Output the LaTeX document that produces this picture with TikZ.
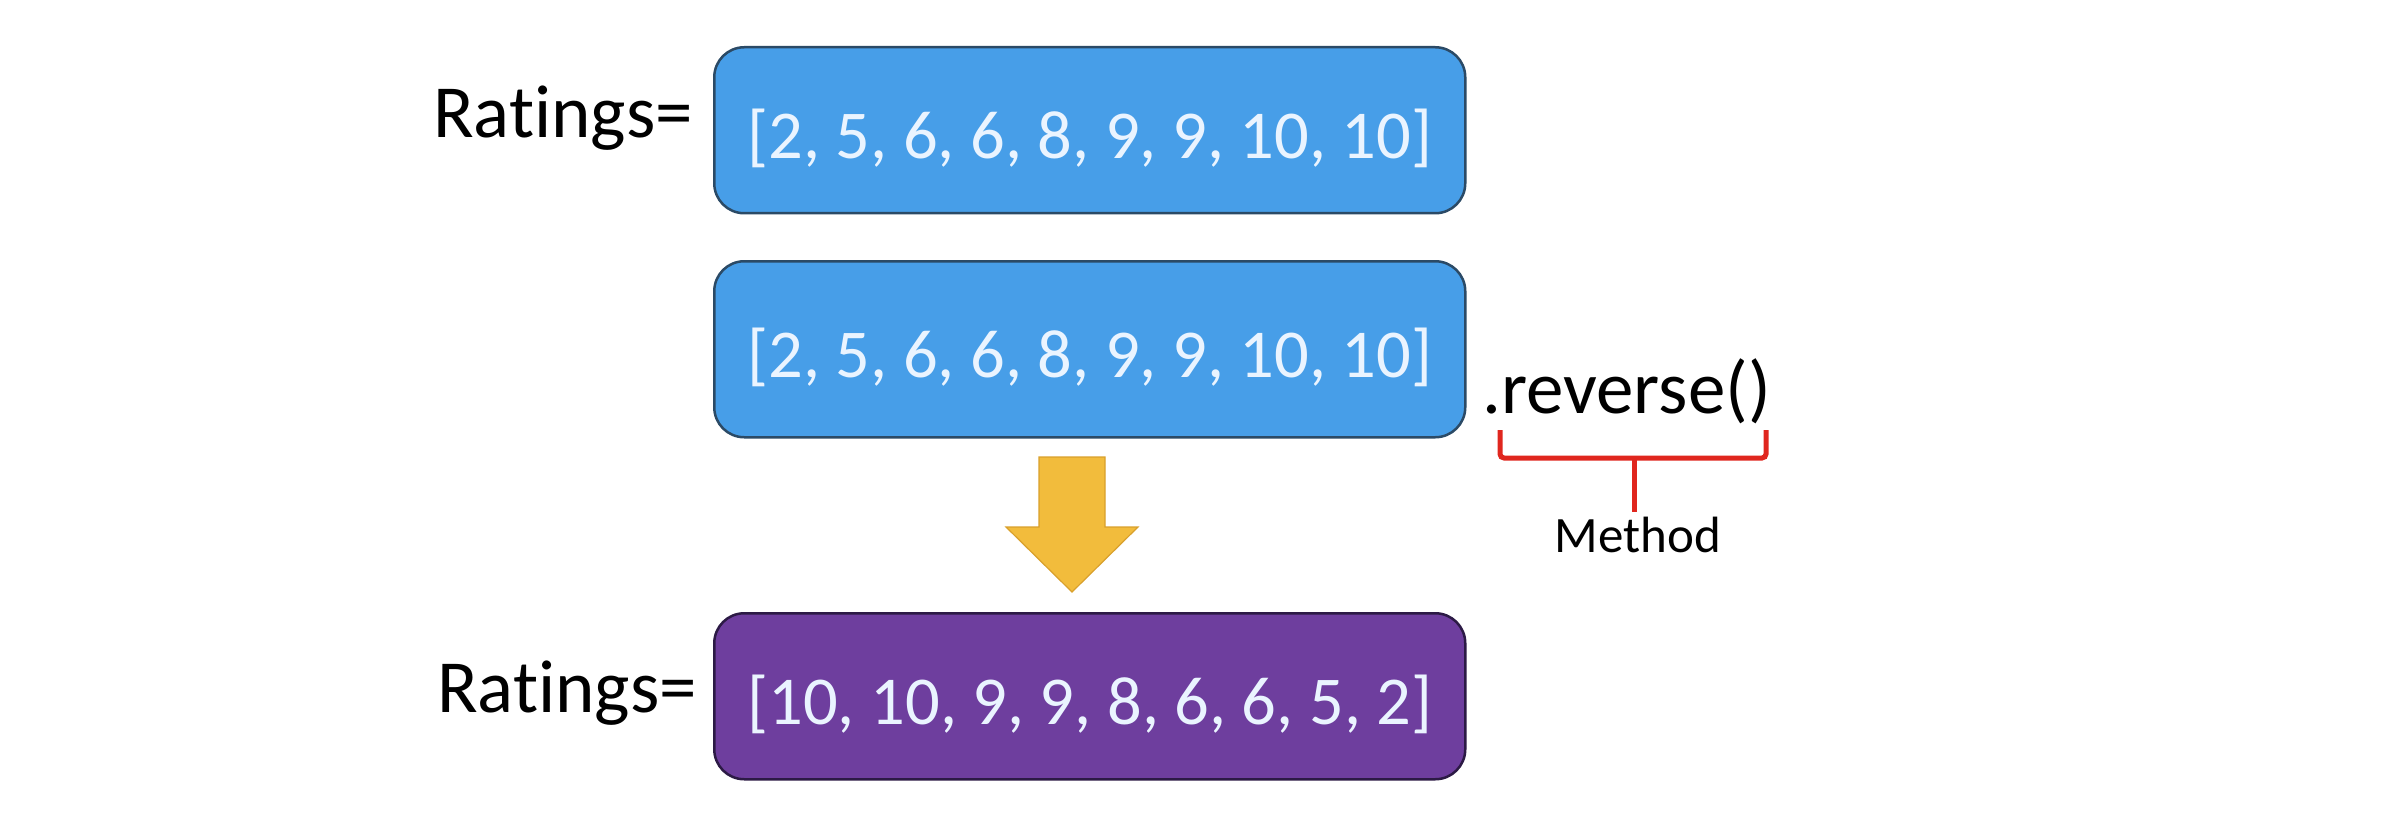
\documentclass[tikz,border=0pt]{standalone}
\usepackage{fontspec}
\setmainfont[Ligatures=NoCommon]{Carlito}
\definecolor{boxblue}{HTML}{479EE8}
\definecolor{blueedge}{HTML}{2B4A66}
\definecolor{boxpurple}{HTML}{6E3E9E}
\definecolor{purpleedge}{HTML}{2C1A45}
\definecolor{arrowyellow}{HTML}{F2BC3C}
\definecolor{arrowedge}{HTML}{D9A02C}
\definecolor{bracered}{HTML}{E0261E}
\definecolor{boxtext}{HTML}{EAF4FF}
\begin{document}
\begin{tikzpicture}[x=1pt,y=-1pt,
  listbox/.style={draw, rounded corners=30pt, line width=2.5pt, minimum width=751pt,
    minimum height=166pt, anchor=north west, inner sep=0pt, text=boxtext,
    text height=60pt, text depth=4pt,
    font=\fontsize{68.5}{74}\selectfont},
  bluebox/.style={listbox, fill=boxblue, draw=blueedge},
  purplebox/.style={listbox, fill=boxpurple, draw=purpleedge},
  label/.style={inner sep=0pt, text=black},
  bigtext/.style={label, font=\fontsize{75}{84}\selectfont},
  bracepen/.style={draw=bracered, line width=5pt, rounded corners=4pt}]
\useasboundingbox (0,0) rectangle (2388,837);
\fill[white] (0,0) rectangle (2388,837);

\node[bluebox] (b1) at (713,46) {[2, 5, 6, 6, 8, 9, 9, 10, 10]};
\node[bluebox, minimum height=176pt] (b2) at (713,260) {[2, 5, 6, 6, 8, 9, 9, 10, 10]};
\node[purplebox] (b3) at (713,612) {[10, 10, 9, 9, 8, 6, 6, 5, 2]};

\node[bigtext, anchor=base west] (r1) at (433,138) {Ratings=};
\node[bigtext, anchor=base west] (r2) at (437,712) {Ratings=};
\node[bigtext, anchor=base west] (rev) at (1482,413) {.reverse()};
\node[label, anchor=base, font=\fontsize{51}{58}\selectfont] (m) at (1638,552) {Method};

% block arrow between the blue and purple boxes
\filldraw[fill=arrowyellow, draw=arrowedge, line width=1.2pt, line join=miter]
  (1039,457) -- (1105,457) -- (1105,527) -- (1138,527) -- (1072,592)
  -- (1006,527) -- (1039,527) -- cycle;

% brace under .reverse()
\coordinate (bl) at (1500,430);
\coordinate (br) at (1766,430);
\coordinate (bj) at (1634,458);
\coordinate (bs) at (1634,512);
\draw[bracepen] (bl) -- (bl |- bj) -- (br |- bj) -- (br);
\draw[bracepen] (bj) -- (bs);
\end{tikzpicture}
\end{document}
